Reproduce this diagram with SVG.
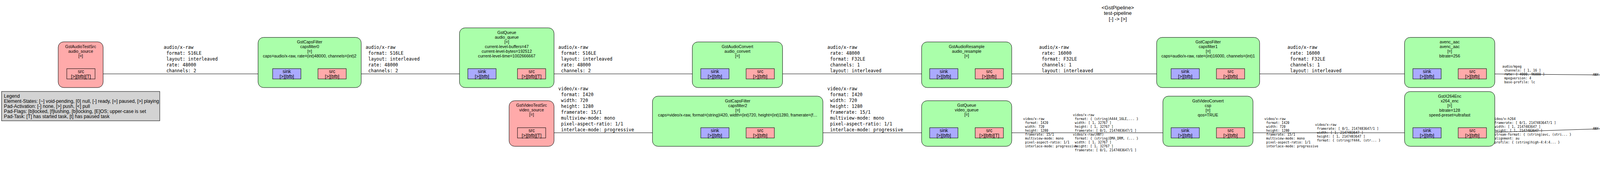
<svg xmlns="http://www.w3.org/2000/svg" width="5723" height="440" viewBox="0 0 5723 440">
<style>
.bx{stroke:#000;stroke-width:1}
.g{fill:#aaffaa}.p{fill:#ffaaaa}.b{fill:#aaaaff}
.pd{stroke:#000;stroke-width:1}
.dash{stroke-dasharray:5,2;stroke-width:1.2}
.t{font-family:"Liberation Sans",Arial,Helvetica,sans-serif;font-size:10.6px;text-anchor:middle;fill:#000}
.pt{font-family:"Liberation Sans",Arial,Helvetica,sans-serif;font-size:12px;text-anchor:middle;fill:#000}
.lg{font-family:"Liberation Sans",Arial,Helvetica,sans-serif;font-size:12.2px;fill:#000}
.ttl{font-family:"Liberation Sans",Arial,Helvetica,sans-serif;font-size:13.2px;text-anchor:middle;fill:#000}
.e{stroke:#000;stroke-width:1;fill:none;marker-end:url(#ah)}
.cl{font-family:"DejaVu Sans Mono",monospace;font-size:11.5px;fill:#000}
.sl{font-family:"DejaVu Sans Mono",monospace;font-size:8.2px;fill:#000}
</style>
<defs>
<marker id="ah" viewBox="0 0 15 10" refX="15" refY="5" markerWidth="15" markerHeight="10" markerUnits="userSpaceOnUse" orient="auto"><path d="M0,0L15,5L0,10z" fill="#000"/></marker>
</defs>
<rect width="5723" height="440" fill="#fff"/>

<g id="pipeline-title">
<text class="ttl" x="2861.5" y="23.6">&lt;GstPipeline&gt;</text>
<text class="ttl" x="2861.5" y="38.2">test-pipeline</text>
<text class="ttl" x="2861.5" y="52.7">[-] -&gt; [&gt;]</text>
</g>

<g id="legend">
<rect x="4" y="234" width="405" height="75" fill="#d3d3d3" stroke="#000" stroke-width="1"/>
<text class="lg" x="10" y="249.5">Legend</text>
<text class="lg" x="10" y="262.5">Element-States: [~] void-pending, [0] null, [-] ready, [=] paused, [&gt;] playing</text>
<text class="lg" x="10" y="275.5">Pad-Activation: [-] none, [&gt;] push, [&lt;] pull</text>
<text class="lg" x="10" y="288.5">Pad-Flags: [b]locked, [f]lushing, [b]locking, [E]OS; upper-case is set</text>
<text class="lg" x="10" y="301.5">Pad-Task: [T] has started task, [t] has paused task</text>
</g>

<g id="connectors">
<path class="e" d="M243.3,189H698"/>
<path class="e" d="M886.3,189H1197.7"/>
<path class="e" d="M1397,189H1794"/>
<path class="e" d="M1397,339.7H1794"/>
<path class="e" d="M1982.3,189H2380"/>
<path class="e" d="M1982.3,339.7H2380"/>
<path class="e" d="M2568.7,189H2998"/>
<path class="e" d="M2568.7,339.7H2998"/>
<path class="e" d="M3186.3,189H3617"/>
<path class="e" d="M3186.3,339.7H3617"/>
<path class="e" d="M3805.3,189L4218.7,192.8"/>
<path class="e" d="M3805.3,339L4218.7,325.5"/>
<path class="e" d="M4407.3,194L4915.7,216.5"/>
<path class="e" d="M4407.3,320.5L4915.7,257.5"/>
<path class="e" d="M5104,254H5613.7"/>
<g id="edge-labels" xml:space="preserve">
<text class="cl"><tspan x="419" y="124.5">audio/x-raw</tspan><tspan x="419" y="139.5">              format: S16LE</tspan><tspan x="419" y="154.5">              layout: interleaved</tspan><tspan x="419" y="169.5">                rate: 48000</tspan><tspan x="419" y="184.5">            channels: 2</tspan></text>
<text class="cl"><tspan x="935.9" y="124.5">audio/x-raw</tspan><tspan x="935.9" y="139.5">              format: S16LE</tspan><tspan x="935.9" y="154.5">              layout: interleaved</tspan><tspan x="935.9" y="169.5">                rate: 48000</tspan><tspan x="935.9" y="184.5">            channels: 2</tspan></text>
<text class="cl"><tspan x="1429.3" y="124.5">audio/x-raw</tspan><tspan x="1429.3" y="139.5">              format: S16LE</tspan><tspan x="1429.3" y="154.5">              layout: interleaved</tspan><tspan x="1429.3" y="169.5">                rate: 48000</tspan><tspan x="1429.3" y="184.5">            channels: 2</tspan></text>
<text class="cl"><tspan x="1429.3" y="230.5">video/x-raw</tspan><tspan x="1429.3" y="245.5">              format: I420</tspan><tspan x="1429.3" y="260.5">               width: 720</tspan><tspan x="1429.3" y="275.5">              height: 1280</tspan><tspan x="1429.3" y="290.5">           framerate: 15/1</tspan><tspan x="1429.3" y="305.5">      multiview-mode: mono</tspan><tspan x="1429.3" y="320.5">  pixel-aspect-ratio: 1/1</tspan><tspan x="1429.3" y="335.5">      interlace-mode: progressive</tspan></text>
<text class="cl"><tspan x="2118" y="124.5">audio/x-raw</tspan><tspan x="2118" y="139.5">                rate: 48000</tspan><tspan x="2118" y="154.5">              format: F32LE</tspan><tspan x="2118" y="169.5">            channels: 1</tspan><tspan x="2118" y="184.5">              layout: interleaved</tspan></text>
<text class="cl"><tspan x="2118" y="230.5">video/x-raw</tspan><tspan x="2118" y="245.5">              format: I420</tspan><tspan x="2118" y="260.5">               width: 720</tspan><tspan x="2118" y="275.5">              height: 1280</tspan><tspan x="2118" y="290.5">           framerate: 15/1</tspan><tspan x="2118" y="305.5">      multiview-mode: mono</tspan><tspan x="2118" y="320.5">  pixel-aspect-ratio: 1/1</tspan><tspan x="2118" y="335.5">      interlace-mode: progressive</tspan></text>
<text class="cl"><tspan x="2660" y="124.5">audio/x-raw</tspan><tspan x="2660" y="139.5">                rate: 16000</tspan><tspan x="2660" y="154.5">              format: F32LE</tspan><tspan x="2660" y="169.5">            channels: 1</tspan><tspan x="2660" y="184.5">              layout: interleaved</tspan></text>
<text class="cl"><tspan x="3295.8" y="124.5">audio/x-raw</tspan><tspan x="3295.8" y="139.5">                rate: 16000</tspan><tspan x="3295.8" y="154.5">              format: F32LE</tspan><tspan x="3295.8" y="169.5">            channels: 1</tspan><tspan x="3295.8" y="184.5">              layout: interleaved</tspan></text>
<text class="sl"><tspan x="2619.3" y="306.8">video/x-raw</tspan><tspan x="2619.3" y="316.8">              format: I420</tspan><tspan x="2619.3" y="326.8">               width: 720</tspan><tspan x="2619.3" y="336.8">              height: 1280</tspan><tspan x="2619.3" y="346.8">           framerate: 15/1</tspan><tspan x="2619.3" y="356.8">      multiview-mode: mono</tspan><tspan x="2619.3" y="366.8">  pixel-aspect-ratio: 1/1</tspan><tspan x="2619.3" y="376.8">      interlace-mode: progressive</tspan></text>
<text class="sl"><tspan x="2746.7" y="296.8">video/x-raw</tspan><tspan x="2746.7" y="306.8">              format: { (string)A444_16LE,... }</tspan><tspan x="2746.7" y="316.8">               width: [ 1, 32767 ]</tspan><tspan x="2746.7" y="326.8">              height: [ 1, 32767 ]</tspan><tspan x="2746.7" y="336.8">           framerate: [ 0/1, 2147483647/1 ]</tspan><tspan x="2746.7" y="346.8">video/x-raw(ANY)</tspan><tspan x="2746.7" y="356.8">              format: { (string)DMA_DRM, (... }</tspan><tspan x="2746.7" y="366.8">               width: [ 1, 32767 ]</tspan><tspan x="2746.7" y="376.8">              height: [ 1, 32767 ]</tspan><tspan x="2746.7" y="386.8">           framerate: [ 0/1, 2147483647/1 ]</tspan></text>
<text class="sl"><tspan x="3236.7" y="306.8">video/x-raw</tspan><tspan x="3236.7" y="316.8">              format: I420</tspan><tspan x="3236.7" y="326.8">               width: 720</tspan><tspan x="3236.7" y="336.8">              height: 1280</tspan><tspan x="3236.7" y="346.8">           framerate: 15/1</tspan><tspan x="3236.7" y="356.8">      multiview-mode: mono</tspan><tspan x="3236.7" y="366.8">  pixel-aspect-ratio: 1/1</tspan><tspan x="3236.7" y="376.8">      interlace-mode: progressive</tspan></text>
<text class="sl"><tspan x="3366.7" y="321.8">video/x-raw</tspan><tspan x="3366.7" y="331.8">           framerate: [ 0/1, 2147483647/1 ]</tspan><tspan x="3366.7" y="341.8">               width: [ 1, 2147483647 ]</tspan><tspan x="3366.7" y="351.8">              height: [ 1, 2147483647 ]</tspan><tspan x="3366.7" y="361.8">              format: { (string)Y444, (str... }</tspan></text>
<text class="sl"><tspan x="3846" y="172.8">audio/mpeg</tspan><tspan x="3846" y="182.8">            channels: [ 1, 16 ]</tspan><tspan x="3846" y="192.8">                rate: [ 4000, 96000 ]</tspan><tspan x="3846" y="202.8">         mpegversion: 4</tspan><tspan x="3846" y="212.8">        base-profile: lc</tspan></text>
<text class="sl" x="4077.7" y="193.8">ANY</text>
<text class="sl"><tspan x="3820.7" y="306.8">video/x-h264</tspan><tspan x="3820.7" y="316.8">           framerate: [ 0/1, 2147483647/1 ]</tspan><tspan x="3820.7" y="326.8">               width: [ 1, 2147483647 ]</tspan><tspan x="3820.7" y="336.8">              height: [ 1, 2147483647 ]</tspan><tspan x="3820.7" y="346.8">       stream-format: { (string)avc, (stri... }</tspan><tspan x="3820.7" y="356.8">           alignment: au</tspan><tspan x="3820.7" y="366.8">             profile: { (string)high-4:4:4... }</tspan></text>
<text class="sl" x="4077.7" y="331.8">ANY</text>
<text class="sl" x="4533.3" y="202.8">ANY</text>
<text class="sl" x="4532.7" y="306.8">ANY</text>
<text class="sl"><tspan x="4665" y="121.8">video/mpeg</tspan><tspan x="4665" y="131.8">         mpegversion: 4</tspan><tspan x="4665" y="141.8">        systemstream: false</tspan><tspan x="4665" y="151.8">               width: [ 16, 2147483647 ]</tspan><tspan x="4665" y="161.8">              height: [ 16, 2147483647 ]</tspan><tspan x="4665" y="171.8">video/x-divx</tspan><tspan x="4665" y="181.8">         divxversion: 5</tspan><tspan x="4665" y="191.8">               width: [ 16, 2147483647 ]</tspan><tspan x="4665" y="201.8">              height: [ 16, 2147483647 ]</tspan><tspan x="4665" y="211.8">video/x-h264</tspan><tspan x="4665" y="221.8">       stream-format: { (string)avc, (stri... }</tspan><tspan x="4665" y="231.8">           alignment: au</tspan><tspan x="4665" y="241.8">               width: [ 16, 2147483647 ]</tspan><tspan x="4665" y="251.8">              height: [ 16, 2147483647 ]</tspan><tspan x="4665" y="261.8">video/x-h265</tspan><tspan x="4665" y="271.8">       stream-format: { (string)hvc1, (str... }</tspan><tspan x="4665" y="281.8">           alignment: au</tspan><tspan x="4665" y="291.8">               width: [ 16, 2147483647 ]</tspan><tspan x="4665" y="301.8">              height: [ 16, 2147483647 ]</tspan><tspan x="4665" y="311.8">video/x-mp4-part</tspan><tspan x="4665" y="321.8">               width: [ 16, 2147483647 ]</tspan><tspan x="4665" y="331.8">              height: [ 16, 2147483647 ]</tspan><tspan x="4665" y="341.8">video/x-av1</tspan><tspan x="4665" y="351.8">       stream-format: obu-stream</tspan><tspan x="4665" y="361.8">           alignment: tu</tspan><tspan x="4665" y="371.8">               width: [ 16, 2147483647 ]</tspan><tspan x="4665" y="381.8">              height: [ 16, 2147483647 ]</tspan><tspan x="4665" y="391.8">video/x-vp9</tspan><tspan x="4665" y="401.8">             profile: { (string)0, (string... }</tspan><tspan x="4665" y="411.8">       chroma-format: { (string)4:2:0, (st... }</tspan><tspan x="4665" y="421.8">               width: [ 16, 2147483647 ]</tspan><tspan x="4665" y="431.8">              height: [ 16, 2147483647 ]</tspan></text>
<text class="sl"><tspan x="4684" y="117.8">audio/mpeg</tspan><tspan x="4684" y="127.8">         mpegversion: 1</tspan><tspan x="4684" y="137.8">               layer: [ 1, 3 ]</tspan><tspan x="4684" y="147.8">            channels: [ 1, 2 ]</tspan><tspan x="4684" y="157.8">                rate: [ 1, 2147483647 ]</tspan><tspan x="4684" y="167.8">audio/mpeg</tspan><tspan x="4684" y="177.8">         mpegversion: 4</tspan><tspan x="4684" y="187.8">       stream-format: raw</tspan><tspan x="4684" y="197.8">            channels: [ 1, 8 ]</tspan><tspan x="4684" y="207.8">                rate: [ 1, 2147483647 ]</tspan><tspan x="4684" y="217.8">audio/x-ac3</tspan><tspan x="4684" y="227.8">            channels: [ 1, 6 ]</tspan><tspan x="4684" y="237.8">                rate: [ 1, 2147483647 ]</tspan><tspan x="4684" y="247.8">audio/x-alac</tspan><tspan x="4684" y="257.8">            channels: [ 1, 2 ]</tspan><tspan x="4684" y="267.8">                rate: [ 1, 2147483647 ]</tspan><tspan x="4684" y="277.8">audio/x-opus</tspan><tspan x="4684" y="287.8">  channel-mapping-family: [ 0, 255 ]</tspan><tspan x="4684" y="297.8">            channels: [ 1, 8 ]</tspan><tspan x="4684" y="307.8">                rate: [ 1, 2147483647 ]</tspan></text>
<text class="sl"><tspan x="5175" y="251.8">video/quicktime</tspan><tspan x="5175" y="261.8">             variant: iso</tspan></text>
<text class="sl" x="5472.3" y="256.8">ANY</text>
</g>
</g>

<g id="audio_source">
<rect class="bx p" x="149" y="107" width="115" height="117" rx="14"/>
<text class="t" x="206.5" y="122.5">GstAudioTestSrc</text>
<text class="t" x="206.5" y="134.5">audio_source</text>
<text class="t" x="206.5" y="146.5">[=]</text>
<rect class="pd p" x="171" y="175.7" width="72.3" height="26.3"/>
<text class="pt" x="207.2" y="186.5">src</text>
<text class="pt" x="207.2" y="199.5">[&gt;][bfb][T]</text>
</g>

<g id="capsfilter0">
<rect class="bx g" x="660.7" y="95.7" width="264" height="128.3" rx="14"/>
<text class="t" x="792.7" y="111.2">GstCapsFilter</text>
<text class="t" x="792.7" y="123.2">capsfilter0</text>
<text class="t" x="792.7" y="135.2">[=]</text>
<text class="t" x="792.7" y="147.2">caps=audio/x-raw, rate=(int)48000, channels=(int)2</text>
<rect class="pd b" x="698" y="175.7" width="72.3" height="26.3"/>
<text class="pt" x="734.2" y="186.5">sink</text>
<text class="pt" x="734.2" y="199.5">[&gt;][bfb]</text>
<rect class="pd p" x="814" y="175.7" width="72.3" height="26.3"/>
<text class="pt" x="850.2" y="186.5">src</text>
<text class="pt" x="850.2" y="199.5">[&gt;][bfb]</text>
</g>

<g id="audio_queue">
<rect class="bx g" x="1176.3" y="71.3" width="242" height="152.7" rx="14"/>
<text class="t" x="1297.3" y="86.8">GstQueue</text>
<text class="t" x="1297.3" y="98.8">audio_queue</text>
<text class="t" x="1297.3" y="110.8">[=]</text>
<text class="t" x="1297.3" y="122.8">current-level-buffers=47</text>
<text class="t" x="1297.3" y="134.8">current-level-bytes=192512</text>
<text class="t" x="1297.3" y="146.8">current-level-time=1002666667</text>
<rect class="pd b" x="1197.7" y="175.7" width="72.3" height="26.3"/>
<text class="pt" x="1233.9" y="186.5">sink</text>
<text class="pt" x="1233.9" y="199.5">[&gt;][bfb]</text>
<rect class="pd p" x="1324.7" y="175.7" width="72.3" height="26.3"/>
<text class="pt" x="1360.9" y="186.5">src</text>
<text class="pt" x="1360.9" y="199.5">[&gt;][bfb][T]</text>
</g>

<g id="video_source">
<rect class="bx p" x="1303.3" y="257.7" width="115" height="116.6" rx="14"/>
<text class="t" x="1360.8" y="273.2">GstVideoTestSrc</text>
<text class="t" x="1360.8" y="285.2">video_source</text>
<text class="t" x="1360.8" y="297.2">[=]</text>
<rect class="pd p" x="1324.7" y="326.7" width="72.3" height="26.3"/>
<text class="pt" x="1360.9" y="337.5">src</text>
<text class="pt" x="1360.9" y="350.5">[&gt;][bfb][T]</text>
</g>

<g id="audio_convert">
<rect class="bx g" x="1772.3" y="107.3" width="231" height="116.7" rx="14"/>
<text class="t" x="1887.8" y="122.8">GstAudioConvert</text>
<text class="t" x="1887.8" y="134.8">audio_convert</text>
<text class="t" x="1887.8" y="146.8">[=]</text>
<rect class="pd b" x="1794" y="175.7" width="72.3" height="26.3"/>
<text class="pt" x="1830.2" y="186.5">sink</text>
<text class="pt" x="1830.2" y="199.5">[&gt;][bfb]</text>
<rect class="pd p" x="1910" y="175.7" width="72.3" height="26.3"/>
<text class="pt" x="1946.2" y="186.5">src</text>
<text class="pt" x="1946.2" y="199.5">[&gt;][bfb]</text>
</g>

<g id="capsfilter2">
<rect class="bx g" x="1670.3" y="246" width="436.4" height="128.3" rx="14"/>
<text class="t" x="1888.5" y="261.5">GstCapsFilter</text>
<text class="t" x="1888.5" y="273.5">capsfilter2</text>
<text class="t" x="1888.5" y="285.5">[=]</text>
<text class="t" x="1888.5" y="297.5">caps=video/x-raw, format=(string)I420, width=(int)720, height=(int)1280, framerate=(f…</text>
<rect class="pd b" x="1794" y="326.7" width="72.3" height="26.3"/>
<text class="pt" x="1830.2" y="337.5">sink</text>
<text class="pt" x="1830.2" y="350.5">[&gt;][bfb]</text>
<rect class="pd p" x="1910" y="326.7" width="72.3" height="26.3"/>
<text class="pt" x="1946.2" y="337.5">src</text>
<text class="pt" x="1946.2" y="350.5">[&gt;][bfb]</text>
</g>

<g id="audio_resample">
<rect class="bx g" x="2359.3" y="107.3" width="230.7" height="116.7" rx="14"/>
<text class="t" x="2474.7" y="122.8">GstAudioResample</text>
<text class="t" x="2474.7" y="134.8">audio_resample</text>
<text class="t" x="2474.7" y="146.8">[=]</text>
<rect class="pd b" x="2380" y="175.7" width="72.3" height="26.3"/>
<text class="pt" x="2416.2" y="186.5">sink</text>
<text class="pt" x="2416.2" y="199.5">[&gt;][bfb]</text>
<rect class="pd p" x="2496.4" y="175.7" width="72.3" height="26.3"/>
<text class="pt" x="2532.6" y="186.5">src</text>
<text class="pt" x="2532.6" y="199.5">[&gt;][bfb]</text>
</g>

<g id="video_queue">
<rect class="bx g" x="2359.3" y="257.7" width="230.7" height="116.6" rx="14"/>
<text class="t" x="2474.7" y="273.2">GstQueue</text>
<text class="t" x="2474.7" y="285.2">video_queue</text>
<text class="t" x="2474.7" y="297.2">[=]</text>
<rect class="pd b" x="2380" y="326.7" width="72.3" height="26.3"/>
<text class="pt" x="2416.2" y="337.5">sink</text>
<text class="pt" x="2416.2" y="350.5">[&gt;][bfb]</text>
<rect class="pd p" x="2496.4" y="326.7" width="72.3" height="26.3"/>
<text class="pt" x="2532.6" y="337.5">src</text>
<text class="pt" x="2532.6" y="350.5">[&gt;][bfb][T]</text>
</g>

<g id="capsfilter1">
<rect class="bx g" x="2961" y="95.7" width="263.7" height="128.3" rx="14"/>
<text class="t" x="3092.9" y="111.2">GstCapsFilter</text>
<text class="t" x="3092.9" y="123.2">capsfilter1</text>
<text class="t" x="3092.9" y="135.2">[=]</text>
<text class="t" x="3092.9" y="147.2">caps=audio/x-raw, rate=(int)16000, channels=(int)1</text>
<rect class="pd b" x="2998" y="175.7" width="72.3" height="26.3"/>
<text class="pt" x="3034.2" y="186.5">sink</text>
<text class="pt" x="3034.2" y="199.5">[&gt;][bfb]</text>
<rect class="pd p" x="3114" y="175.7" width="72.3" height="26.3"/>
<text class="pt" x="3150.2" y="186.5">src</text>
<text class="pt" x="3150.2" y="199.5">[&gt;][bfb]</text>
</g>

<g id="csp">
<rect class="bx g" x="2977" y="246" width="230.7" height="128.3" rx="14"/>
<text class="t" x="3092.4" y="261.5">GstVideoConvert</text>
<text class="t" x="3092.4" y="273.5">csp</text>
<text class="t" x="3092.4" y="285.5">[=]</text>
<text class="t" x="3092.4" y="297.5">qos=TRUE</text>
<rect class="pd b" x="2998" y="326.7" width="72.3" height="26.3"/>
<text class="pt" x="3034.2" y="337.5">sink</text>
<text class="pt" x="3034.2" y="350.5">[&gt;][bfb]</text>
<rect class="pd p" x="3114" y="326.7" width="72.3" height="26.3"/>
<text class="pt" x="3150.2" y="337.5">src</text>
<text class="pt" x="3150.2" y="350.5">[&gt;][bfb]</text>
</g>

<g id="avenc_aac">
<rect class="bx g" x="3595.7" y="95.7" width="231" height="128.3" rx="14"/>
<text class="t" x="3711.2" y="111.2">avenc_aac</text>
<text class="t" x="3711.2" y="123.2">avenc_aac</text>
<text class="t" x="3711.2" y="135.2">[=]</text>
<text class="t" x="3711.2" y="147.2">bitrate=256</text>
<rect class="pd b" x="3617" y="175.7" width="72.3" height="26.3"/>
<text class="pt" x="3653.2" y="186.5">sink</text>
<text class="pt" x="3653.2" y="199.5">[&gt;][bfb]</text>
<rect class="pd p" x="3733" y="175.7" width="72.3" height="26.3"/>
<text class="pt" x="3769.2" y="186.5">src</text>
<text class="pt" x="3769.2" y="199.5">[&gt;][bfb]</text>
</g>

<g id="x264_enc">
<rect class="bx g" x="3595.7" y="234.3" width="231" height="140" rx="14"/>
<text class="t" x="3711.2" y="249.8">GstX264Enc</text>
<text class="t" x="3711.2" y="261.8">x264_enc</text>
<text class="t" x="3711.2" y="273.8">[=]</text>
<text class="t" x="3711.2" y="285.8">bitrate=128</text>
<text class="t" x="3711.2" y="297.8">speed-preset=ultrafast</text>
<rect class="pd b" x="3617" y="326.7" width="72.3" height="26.3"/>
<text class="pt" x="3653.2" y="337.5">sink</text>
<text class="pt" x="3653.2" y="350.5">[&gt;][bfb]</text>
<rect class="pd p" x="3733" y="326.7" width="72.3" height="26.3"/>
<text class="pt" x="3769.2" y="337.5">src</text>
<text class="pt" x="3769.2" y="350.5">[&gt;][bfb]</text>
</g>

<g id="audio_mp4_queue">
<rect class="bx g" x="4197.7" y="111.3" width="230.6" height="116.4" rx="14"/>
<text class="t" x="4313" y="126.8">GstQueue</text>
<text class="t" x="4313" y="138.8">audio_mp4_queue</text>
<text class="t" x="4313" y="150.8">[=]</text>
<rect class="pd b" x="4218.7" y="180" width="72.3" height="26.3"/>
<text class="pt" x="4254.9" y="190.8">sink</text>
<text class="pt" x="4254.9" y="203.8">[&gt;][bfb]</text>
<rect class="pd p" x="4335" y="180" width="72.3" height="26.3"/>
<text class="pt" x="4371.2" y="190.8">src</text>
<text class="pt" x="4371.2" y="203.8">[&gt;][bfb][T]</text>
</g>

<g id="video_mp4_queue">
<rect class="bx g" x="4197.7" y="243.3" width="230.6" height="116.4" rx="14"/>
<text class="t" x="4313" y="258.8">GstQueue</text>
<text class="t" x="4313" y="270.8">video_mp4_queue</text>
<text class="t" x="4313" y="282.8">[=]</text>
<rect class="pd b" x="4218.7" y="312" width="72.3" height="26.3"/>
<text class="pt" x="4254.9" y="322.8">sink</text>
<text class="pt" x="4254.9" y="335.8">[&gt;][bfb]</text>
<rect class="pd p" x="4335" y="312" width="72.3" height="26.3"/>
<text class="pt" x="4371.2" y="322.8">src</text>
<text class="pt" x="4371.2" y="335.8">[&gt;][bfb][T]</text>
</g>

<g id="mp4_mux">
<rect class="bx g" x="4799.3" y="112.7" width="421.7" height="176.3" rx="14"/>
<text class="t" x="5010.2" y="128.2">GstMP4Mux</text>
<text class="t" x="5010.2" y="140.2">mp4_mux</text>
<text class="t" x="5010.2" y="152.2">[=]</text>
<text class="t" x="5010.2" y="164.2">faststart-file="/var/folders/rs/j7_pd1lj7kn0h0pxzkhx8n5h0000gr/T/qtmux2089008100"</text>
<text class="t" x="5010.2" y="176.2">reserved-duration-remaining=18446744073709551615</text>
<rect class="pd dash b" x="4915.7" y="205" width="72.3" height="26.3"/>
<text class="pt" x="4951.9" y="215.8">audio_0</text>
<text class="pt" x="4951.9" y="228.8">[&gt;][bfb]</text>
<rect class="pd dash b" x="4915.7" y="241" width="72.3" height="26.3"/>
<text class="pt" x="4951.9" y="251.8">video_0</text>
<text class="pt" x="4951.9" y="264.8">[&gt;][bfb]</text>
<rect class="pd p" x="5031.7" y="241" width="72.3" height="26.3"/>
<text class="pt" x="5067.9" y="251.8">src</text>
<text class="pt" x="5067.9" y="264.8">[&gt;][bfb][T]</text>
</g>

<g id="fake_sink">
<rect class="bx b" x="5592.3" y="160.7" width="115" height="128.3" rx="14"/>
<text class="t" x="5649.8" y="176.2">GstFakeSink</text>
<text class="t" x="5649.8" y="188.2">fake_sink</text>
<text class="t" x="5649.8" y="200.2">[-] -&gt; [=]</text>
<text class="t" x="5649.8" y="212.2">sync=FALSE</text>
<rect class="pd b" x="5613.7" y="241" width="72.3" height="26.3"/>
<text class="pt" x="5649.9" y="251.8">sink</text>
<text class="pt" x="5649.9" y="264.8">[&gt;][bfb]</text>
</g>
</svg>
